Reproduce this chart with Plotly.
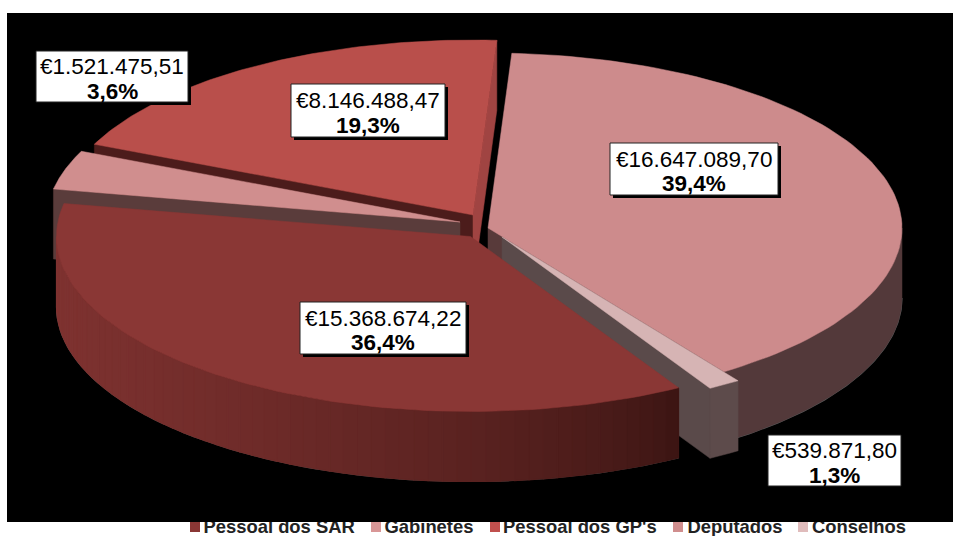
import math
import plotly.graph_objects as go

# ---- data ----
categories = ["Deputados", "Conselhos", "Pessoal dos SAR", "Gabinetes", "Pessoal dos GP's"]
values = [16647089.70, 539871.80, 15368674.22, 1521475.51, 8146488.47]

# ---- style ----
legend_order = ["Pessoal dos SAR", "Gabinetes", "Pessoal dos GP's", "Deputados", "Conselhos"]
legend_x = {"Pessoal dos SAR": 195, "Gabinetes": 376, "Pessoal dos GP's": 495, "Deputados": 678, "Conselhos": 803}
legend_text_x = {"Pessoal dos SAR": 203.5, "Gabinetes": 384.5, "Pessoal dos GP's": 503, "Deputados": 687.5, "Conselhos": 812}
top_color = {"Deputados": "#cd8b8c", "Conselhos": "#d6b4b4", "Pessoal dos SAR": "#8a3735",
             "Gabinetes": "#d08e8e", "Pessoal dos GP's": "#b94f4b"}
swatch_color = {"Deputados": "#d08e8e", "Conselhos": "#e0bcbc", "Pessoal dos SAR": "#8a3735",
                "Gabinetes": "#d99797", "Pessoal dos GP's": "#c0504d"}
apex = {"Deputados": (488, 228), "Conselhos": (502, 237), "Pessoal dos SAR": (470.5, 236.5),
        "Gabinetes": (460, 222), "Pessoal dos GP's": (473, 215)}
boxes = {"Deputados": (610, 143, 778, 195), "Conselhos": (768, 435, 901, 486),
         "Pessoal dos SAR": (300, 302, 466, 354), "Gabinetes": (36, 51, 188, 102),
         "Pessoal dos GP's": (291, 84, 445, 137)}
RX, RY, DEPTH, START = 414, 175, 70, 3.3

total = sum(values)
angles = {}
a = START
for c, v in zip(categories, values):
    angles[c] = (a, a + v / total * 360)
    a += v / total * 360


def pt(c, phi, down=0):
    r = math.radians(phi)
    ax, ay = apex[c]
    return ax + RX * math.sin(r), ay - RY * math.cos(r) + down


def arc(c, a0, a1, down=0, n=90):
    return [pt(c, a0 + (a1 - a0) * i / n, down) for i in range(n + 1)]


fig = go.Figure()


def poly(points, color, width=0.5):
    xs = [p[0] for p in points] + [points[0][0]]
    ys = [p[1] for p in points] + [points[0][1]]
    fig.add_trace(go.Scatter(x=xs, y=ys, mode="lines", fill="toself", fillcolor=color,
                             line=dict(color=color, width=width), hoverinfo="skip", showlegend=False))


def top(c):
    a0, a1 = angles[c]
    poly([apex[c]] + arc(c, a0, a1), top_color[c])


def radial(c, phi, color):
    ax, ay = apex[c]
    e = pt(c, phi)
    poly([(ax, ay), e, (e[0], e[1] + DEPTH), (ax, ay + DEPTH)], color)


def rim_line(c, a0, a1, alpha):
    rim = arc(c, a0, a1, DEPTH)
    fig.add_trace(go.Scatter(x=[p[0] for p in rim], y=[p[1] for p in rim], mode="lines",
                             line=dict(color=f"rgba(150,155,155,{alpha})", width=1.2),
                             hoverinfo="skip", showlegend=False))


def outer(c, a0, a1, color):
    poly(arc(c, a0, a1) + arc(c, a0, a1, DEPTH)[::-1], color)


GP, GB, DP, CS, SR = "Pessoal dos GP's", "Gabinetes", "Deputados", "Conselhos", "Pessoal dos SAR"

# back slices
radial(GP, angles[GP][0], "#4c1c1b")
radial(GP, angles[GP][1], "#a04442")
top(GP)
radial(GB, angles[GB][0], "#5a3c3b")
top(GB)

# Deputados
rim_line(DP, 90, angles[DP][1], 0.6)
outer(DP, 90, angles[DP][1], "#53393a")
radial(DP, angles[DP][1], "#583a3a")
top(DP)

# Conselhos
radial(CS, angles[CS][1], "#5a4a4a")
outer(CS, angles[CS][0], angles[CS][1], "#5d4b4b")
top(CS)

# SAR wall: shaded from left to right
steps = 60
sar_a0, sar_a1 = angles[SR]
left, right = (126, 50, 48), (58, 20, 18)
rim_line(SR, sar_a0, 270, 0.55)
x_min, x_max = pt(SR, 270)[0], pt(SR, sar_a0)[0]
for i in range(steps):
    p0 = sar_a0 + (270 - sar_a0) * i / steps
    p1 = sar_a0 + (270 - sar_a0) * (i + 1) / steps
    xm = pt(SR, (p0 + p1) / 2)[0]
    f = ((x_max - xm) / (x_max - x_min)) ** 0.7
    col = "rgb(%d,%d,%d)" % tuple(round(r + (l - r) * f) for l, r in zip(left, right))
    poly(arc(SR, p0, p1, 0, 4) + arc(SR, p0, p1, DEPTH, 4)[::-1], col, width=1.2)
top(SR)

# legend entries (drawn as traces so the band above can clip them)
for c in legend_order:
    fig.add_trace(go.Scatter(x=[legend_x[c]], y=[527], mode="markers",
                             marker=dict(symbol="square", size=10, color=swatch_color[c]),
                             hoverinfo="skip", showlegend=False))
    fig.add_trace(go.Scatter(x=[legend_text_x[c]], y=[528.5], mode="text",
                             text=["<b>%s</b>" % c], textposition="middle right",
                             textfont=dict(family="Liberation Sans", size=18.4, color="#222222"),
                             hoverinfo="skip", showlegend=False))

shapes = [dict(type="rect", x0=7, y0=13, x1=953, y1=522, fillcolor="black", line_width=0, layer="below"),
          dict(type="rect", x0=7, y0=505, x1=953, y1=522, fillcolor="black", line_width=0, layer="above")]
annotations = []


def money(v):
    s = f"{v:,.2f}".replace(",", "#").replace(".", ",").replace("#", ".")
    return "€" + s


for c, v in zip(categories, values):
    x0, y0, x1, y1 = boxes[c]
    shapes.append(dict(type="rect", x0=x0 + 3, y0=y0 + 3, x1=x1 + 3, y1=y1 + 3, fillcolor="black", line_width=0, layer="above"))
    shapes.append(dict(type="rect", x0=x0, y0=y0, x1=x1, y1=y1, fillcolor="white",
                       line=dict(color="#222222", width=1), layer="above"))
    pct = f"{v / total * 100:.1f}".replace(".", ",")
    xc, yc = (x0 + x1) / 2, (y0 + y1) / 2
    annotations.append(dict(x=xc, y=yc - 10, xref="x", yref="y", showarrow=False, text=money(v),
                            font=dict(family="Liberation Sans", size=22.5, color="black")))
    annotations.append(dict(x=xc, y=yc + 14.5, xref="x", yref="y", showarrow=False, text=f"<b>{pct}%</b>",
                            font=dict(family="Liberation Sans", size=22.5, color="black")))

fig.update_layout(width=953, height=536, margin=dict(l=0, r=0, t=0, b=0), paper_bgcolor="white",
                  plot_bgcolor="white", showlegend=False, shapes=shapes, annotations=annotations,
                  xaxis=dict(range=[0, 953], visible=False, fixedrange=True),
                  yaxis=dict(range=[536, 0], visible=False, fixedrange=True))
fig.write_html("out.html", config={"displayModeBar": False},
               post_script="document.body.style.margin='0';document.documentElement.style.overflow='hidden';window.dispatchEvent(new Event('resize'));")
